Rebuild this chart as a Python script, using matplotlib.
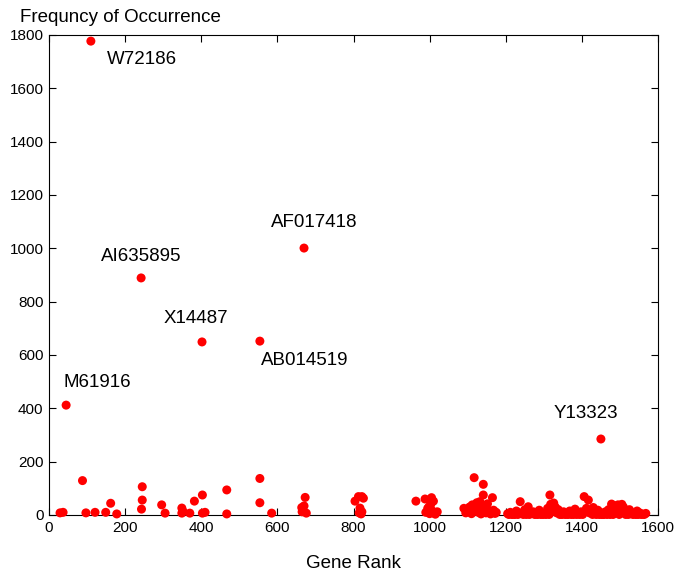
import numpy as np
import matplotlib.pyplot as plt

plt.rcParams['font.family'] = ['Liberation Sans', 'DejaVu Sans']

# labelled genes
gene_names = ["W72186", "AI635895", "AF017418", "X14487", "AB014519", "M61916", "Y13323"]
gene_rank = [110, 242, 670, 402, 554, 45, 1450]
gene_freq = [1777, 889, 1001, 649, 652, 412, 285]

# remaining low-frequency genes
low_rank = [29, 37, 88, 97, 121, 149, 162, 178, 245, 245, 243, 296, 305, 349, 349, 352,
            370, 382, 403, 403, 410, 467, 467, 554, 554, 585, 664, 670, 673, 676, 665,
            804, 813, 822, 826, 817, 822, 820, 815,
            964, 988, 1005, 1010, 990, 995, 1000, 1005, 1010, 1015, 1020, 998, 1003,
            1090, 1095, 1100, 1105, 1110, 1117, 1120, 1124, 1128, 1130, 1135, 1138, 1141,
            1141, 1145, 1148, 1150, 1155, 1160, 1165, 1168, 1172, 1175, 1112, 1132, 1152,
            1205, 1212, 1220, 1228, 1238, 1242, 1250, 1259, 1265, 1272, 1280, 1288, 1295,
            1302, 1310, 1316, 1318, 1322, 1326, 1330, 1334, 1338, 1345, 1352, 1360, 1368,
            1375, 1382, 1390, 1398, 1406, 1412, 1417, 1420, 1425, 1430, 1435, 1442, 1448,
            1455, 1462, 1470, 1478, 1485, 1490, 1495, 1500, 1505, 1509, 1512, 1518, 1525,
            1530, 1538, 1545, 1552, 1560, 1568,
            1208, 1216, 1224, 1232, 1246, 1254, 1262, 1276, 1284, 1292, 1298, 1306, 1314,
            1342, 1348, 1356, 1364, 1372, 1378, 1386, 1394, 1402, 1428, 1438, 1446, 1452,
            1458, 1466, 1474, 1482, 1498, 1515, 1522, 1534, 1542, 1548, 1556, 1564]
low_freq = [8, 10, 129, 8, 10, 10, 44, 4, 106, 56, 22, 38, 7, 26, 7, 14,
            7, 52, 75, 7, 10, 94, 4, 137, 46, 7, 28, 34, 66, 7, 12,
            52, 69, 69, 63, 26, 12, 4, 8,
            52, 60, 65, 52, 10, 25, 5, 18, 8, 3, 12, 30, 40,
            25, 8, 15, 30, 5, 140, 20, 46, 10, 30, 4, 18, 115,
            75, 35, 8, 22, 12, 4, 65, 18, 6, 10, 38, 50, 42,
            5, 10, 3, 15, 50, 8, 20, 31, 5, 12, 3, 18, 8,
            4, 25, 75, 40, 15, 45, 30, 8, 20, 5, 12, 3, 15,
            8, 22, 5, 12, 69, 25, 56, 8, 15, 28, 5, 18, 10,
            3, 12, 20, 41, 35, 15, 38, 8, 40, 30, 18, 5, 20,
            10, 4, 15, 8, 3, 6,
            2, 2, 2, 2, 2, 2, 2, 2, 2, 2, 2, 2, 2,
            2, 2, 2, 2, 2, 2, 2, 2, 2, 2, 2, 2, 2,
            2, 2, 2, 2, 2, 2, 2, 2, 2, 2, 2, 2]

# offsets of each label from its dot, in pixels
label_offset = [(16, -18), (0, 21), (10, 26), (-6, 23), (45, -19), (31, 23), (-15, 26)]
label_ha = ["left", "center", "center", "center", "center", "center", "center"]

fig = plt.figure(figsize=(6.87, 5.73), dpi=100)
ax = fig.add_axes([49/687, 58/573, 609/687, 480/573])

ax.scatter(low_rank, low_freq, s=42, color="red", edgecolors="none", clip_on=False, zorder=3)
ax.scatter(gene_rank, gene_freq, s=42, color="red", edgecolors="none", clip_on=False, zorder=3)

for name, gx, gy, off, ha in zip(gene_names, gene_rank, gene_freq, label_offset, label_ha):
    ax.annotate(name, (gx, gy), xytext=off, textcoords="offset pixels",
                ha=ha, va="center", fontsize=13.5)

ax.set_xlim(0, 1600)
ax.set_ylim(0, 1800)
ax.set_xticks(np.arange(0, 1601, 200))
ax.set_yticks(np.arange(0, 1801, 200))
ax.tick_params(direction="in", top=True, right=True, labelsize=11, length=5, width=0.8, pad=4)
for sp in ax.spines.values():
    sp.set_linewidth(0.8)

ax.set_xlabel("Gene Rank", fontsize=13.5)
ax.xaxis.set_label_coords(0.5, -0.083)
fig.text(20/687, 1 - 18/573, "Frequncy of Occurrence", fontsize=13.5, va="center", ha="left")

fig.savefig("out.png", dpi=100)
